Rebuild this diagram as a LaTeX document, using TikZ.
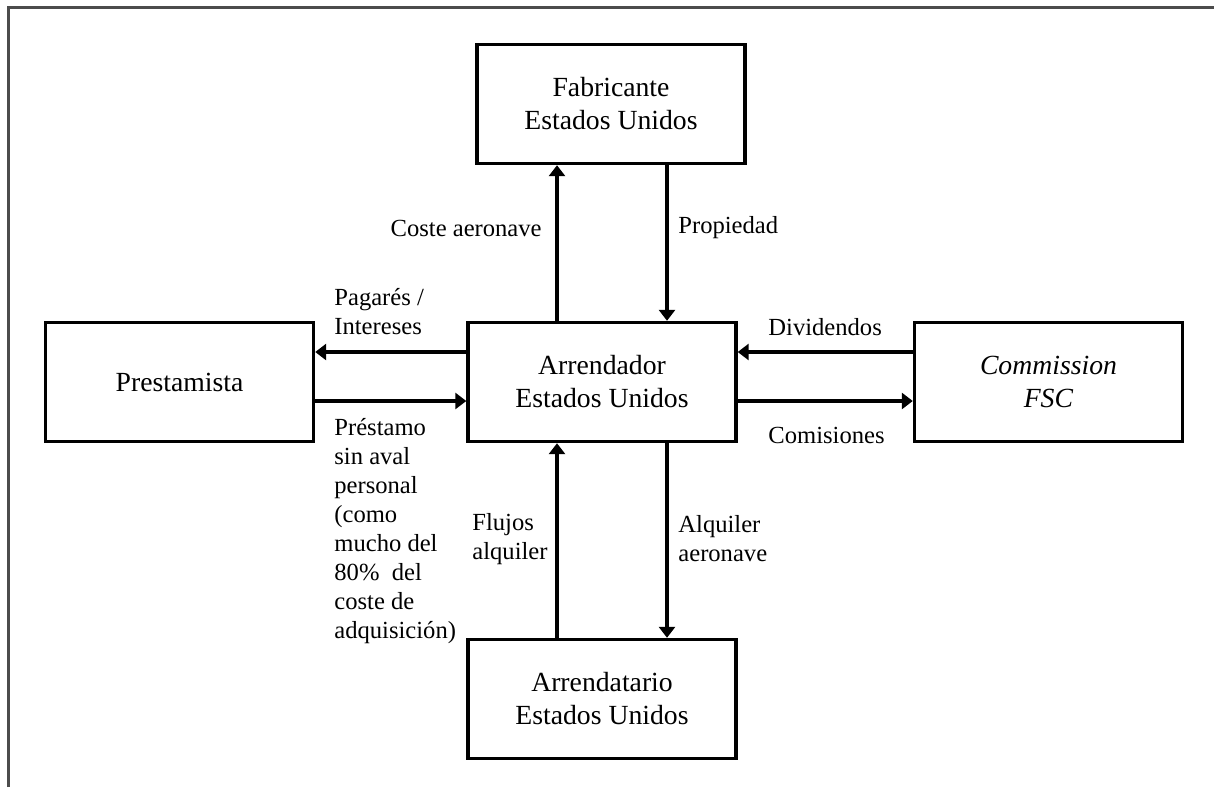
\documentclass[tikz,border=0pt]{standalone}
\usepackage{fontspec}
\setmainfont{Liberation Serif}
\usepackage{tikz}
\usetikzlibrary{arrows.meta}

\begin{document}
\begin{tikzpicture}[x=0.5pt, y=-0.5pt,
	caja/.style={draw, line width=1.7pt, minimum width=134pt, minimum height=59.5pt, align=center, font=\fontsize{13.85}{16.5}\selectfont},
	etiqueta/.style={inner sep=0pt, align=left, font=\fontsize{12.3}{14.5}\selectfont},
	flecha/.style={line width=1.6pt, -{Triangle[length=5.5pt,width=8pt]}}]
	\useasboundingbox (0,0) rectangle (1214,787);
	% marco
	\path[draw, gray!60!black, line width=1.1pt] (8.5,787) -- (8.5,7.5) -- (1214,7.5);
	% cajas
	\draw (611,104) node(fab) [caja] {Fabricante\\Estados Unidos};
	\draw (602,382) node(arr) [caja] {Arrendador\\Estados Unidos};
	\draw (179.5,382) node(pre) [caja] {Prestamista};
	\draw (1048.5,382) node(fsc) [caja] {\textit{Commission}\\\textit{FSC}};
	\draw (602,699) node(ata) [caja] {Arrendatario\\Estados Unidos};
	% flechas
	\path[draw, flecha] ([xshift=-22.5pt]arr.north) -- ([xshift=-22.5pt]arr.north |- fab.south);
	\path[draw, flecha] ([xshift=32.5pt]arr.north |- fab.south) -- ([xshift=32.5pt]arr.north);
	\path[draw, flecha] ([yshift=15pt]arr.west) -- ([yshift=15pt]arr.west -| pre.east);
	\path[draw, flecha] ([yshift=-9.5pt]arr.west -| pre.east) -- ([yshift=-9.5pt]arr.west);
	\path[draw, flecha] ([yshift=15pt]arr.east -| fsc.west) -- ([yshift=15pt]arr.east);
	\path[draw, flecha] ([yshift=-9.5pt]arr.east) -- ([yshift=-9.5pt]arr.east -| fsc.west);
	\path[draw, flecha] ([xshift=-22.5pt]arr.south |- ata.north) -- ([xshift=-22.5pt]arr.south);
	\path[draw, flecha] ([xshift=32.5pt]arr.south) -- ([xshift=32.5pt]arr.south |- ata.north);
	% etiquetas
	\draw (542,228) node(lcoste) [etiqueta, anchor=east] {Coste aeronave};
	\draw (678,228) node(lprop) [etiqueta, anchor=west] {Propiedad};
	\draw (334,312) node(lpag) [etiqueta, anchor=west] {Pagarés /\\Intereses};
	\draw (334,418) node(lpres) [etiqueta, anchor=north west] {Préstamo\\sin aval\\personal\\(como\\mucho del\\80\%\ \ del\\coste de\\adquisición)};
	\draw (768,327) node(ldiv) [etiqueta, anchor=west] {Dividendos};
	\draw (768,435) node(lcom) [etiqueta, anchor=west] {Comisiones};
	\draw (472,539) node(lflu) [etiqueta, anchor=west] {Flujos\\alquiler};
	\draw (678,539) node(lalq) [etiqueta, anchor=west] {Alquiler\\aeronave};
\end{tikzpicture}
\end{document}
